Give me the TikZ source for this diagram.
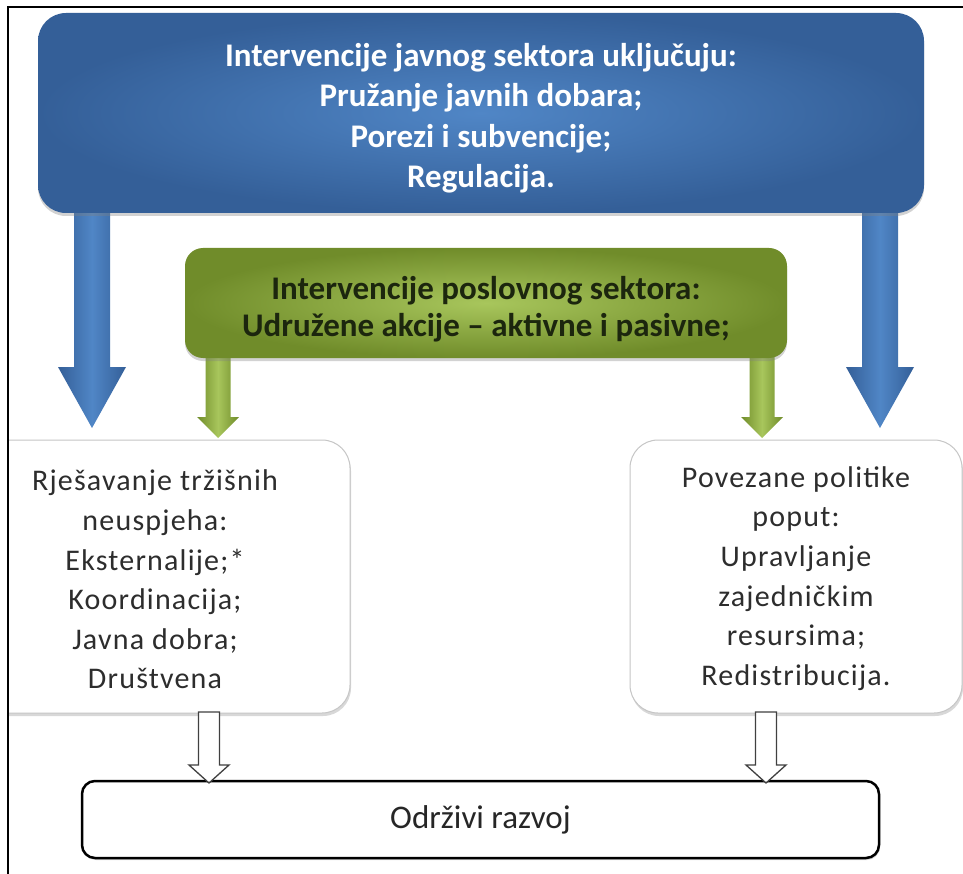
\documentclass[tikz,border=0pt]{standalone}
\usepackage{fontspec}
\setmainfont{Carlito}
\usetikzlibrary{calc,shadows}
\definecolor{bluedk}{RGB}{52,95,152}
\definecolor{bluelt}{RGB}{80,134,198}
\definecolor{greendk}{RGB}{112,140,42}
\definecolor{greenlt}{RGB}{168,198,92}
\definecolor{greentxt}{RGB}{28,38,14}
\definecolor{graytxt}{RGB}{45,45,45}
\newcommand{\blkarrow}[6]{%
  \path[#6] ($(#1)+(-#3,0)$) -- ($(#2)+(-#3,-#5)$) -- ($(#2)+(-#4,-#5)$) -- (#2)
    -- ($(#2)+(#4,-#5)$) -- ($(#2)+(#3,-#5)$) -- ($(#1)+(#3,0)$) -- cycle;}
\tikzset{
  bluebox/.style={rectangle, rounded corners=28pt, inner color=bluelt, outer color=bluedk,
    drop shadow={shadow xshift=0pt, shadow yshift=-3pt, opacity=0.35}},
  bluetext/.style={text=white, font=\fontsize{33}{40.5}\selectfont\bfseries, align=center},
  greenbox/.style={rectangle, rounded corners=18pt, inner color=greenlt, outer color=greendk,
    drop shadow={shadow xshift=0pt, shadow yshift=-3pt, opacity=0.35}},
  greentext/.style={text=greentxt, font=\fontsize{33}{37.5}\selectfont\bfseries, align=center},
  whitebox/.style={rectangle, rounded corners=28pt, fill=white, draw=gray!45, line width=1pt,
    drop shadow={shadow xshift=1pt, shadow yshift=-3pt, opacity=0.3}},
  boxtext/.style={text=graytxt, font=\addfontfeatures{LetterSpace=4}\fontsize{30}{39.6}\selectfont, align=center},
  goalbox/.style={rectangle, rounded corners=13pt, fill=white, draw=black, line width=2.5pt,
    drop shadow={shadow xshift=1pt, shadow yshift=-2pt, opacity=0.3},
    font=\fontsize{33}{34}\selectfont, text=black!85},
  bluearrow/.style={left color=bluedk, right color=bluedk, middle color=bluelt},
  greenarrow/.style={left color=greendk, right color=greendk, middle color=greenlt},
  hollowarrow/.style={fill=white, draw=black!75, line width=1.3pt, line join=miter},
}
\begin{document}
\begin{tikzpicture}[x=1pt,y=-1pt]
\useasboundingbox (0,0) rectangle (963,874);
\fill[white] (0,0) rectangle (963,874);

% arrow end points
\coordinate (ba1s) at (92,200);
\coordinate (ba1t) at (92,428);
\coordinate (ba2s) at (880,200);
\coordinate (ba2t) at (880,428);
\coordinate (ga1s) at (218,350);
\coordinate (ga1t) at (218,438);
\coordinate (ga2s) at (762,350);
\coordinate (ga2t) at (762,438);
\coordinate (ha1s) at (209,712);
\coordinate (ha1t) at (209,783);
\coordinate (ha2s) at (766,712);
\coordinate (ha2t) at (766,783);

% blue and green arrows (behind the boxes)
\blkarrow{ba1s}{ba1t}{18}{34}{61}{bluearrow}
\blkarrow{ba2s}{ba2t}{18}{34}{61}{bluearrow}
\blkarrow{ga1s}{ga1t}{12.5}{21}{21}{greenarrow}
\blkarrow{ga2s}{ga2t}{12.5}{21}{21}{greenarrow}

% public sector box
\node[bluebox, minimum width=886pt, minimum height=200pt] (pub) at (481,113) {};
\node[bluetext] (pubtext) at ($(pub.center)+(0,5)$)
  {Intervencije javnog sektora uključuju:\\Pružanje javnih dobara;\\Porezi i subvencije;\\Regulacija.};

% business sector box
\node[greenbox, minimum width=602pt, minimum height=110pt] (bus) at (486,303) {};
\node[greentext] (bustext) at ($(bus.center)+(0,6)$)
  {Intervencije poslovnog sektora:\\Udružene akcije – aktivne i pasivne;};

% white boxes
\begin{scope}
\clip (9,0) rectangle (963,874);
\node[whitebox, minimum width=390pt, minimum height=273pt] (lbox) at (155,576.5) {};
\end{scope}
\node[boxtext] (ltext) at ($(lbox.center)+(0,3)$) {Rješavanje tržišnih\\neuspjeha:\\Eksternalije;*\\Koordinacija;\\Javna dobra;\\Društvena};
\node[whitebox, minimum width=332pt, minimum height=273pt] (rbox) at (796,576.5) {};
\node[boxtext] (rtext) at ($(rbox.center)+(0,2)$) {Povezane politike\\poput:\\Upravljanje\\zajedničkim\\resursima;\\Redistribucija.};

% goal box
\node[goalbox, minimum width=797pt, minimum height=77pt] (goal) at (480.5,819.5) {Održivi razvoj};

% hollow arrows
\blkarrow{ha1s}{ha1t}{10.5}{20}{18}{hollowarrow}
\blkarrow{ha2s}{ha2t}{10.5}{20}{18}{hollowarrow}

% frame (left and top)
\draw[black, line width=1.5pt] (8,874) -- (8,7) -- (963,7);
\end{tikzpicture}
\end{document}
